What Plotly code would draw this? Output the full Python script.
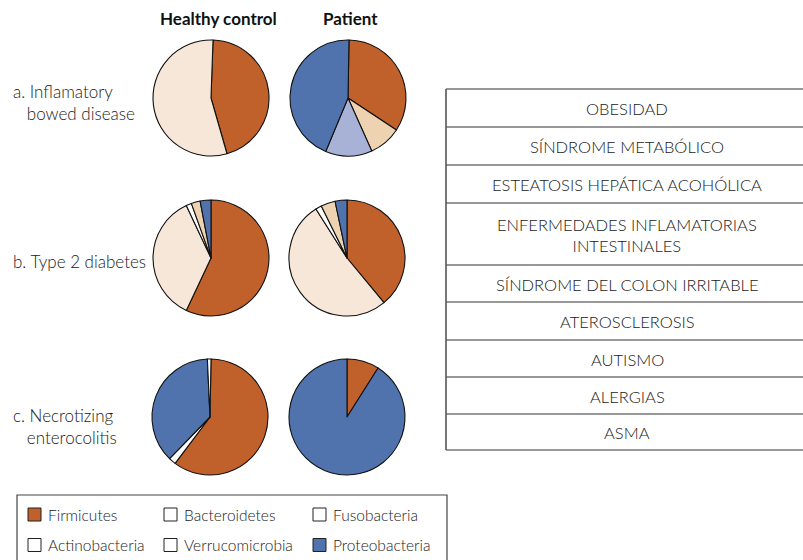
import plotly.graph_objects as go

# ---- data -------------------------------------------------------------
conditions = ["a. Inflamatory<br>   bowed disease", "b. Type 2 diabetes", "c. Necrotizing<br>   enterocolitis"]
groups = ["Healthy control", "Patient"]

ibd_healthy_labels = ["Firmicutes", "Bacteroidetes"]
ibd_healthy_values = [45, 55]
ibd_patient_labels = ["Firmicutes", "Actinobacteria", "Verrucomicrobia", "Proteobacteria"]
ibd_patient_values = [34, 9, 13, 44]

t2d_healthy_labels = ["Firmicutes", "Bacteroidetes", "Fusobacteria", "Actinobacteria", "Proteobacteria"]
t2d_healthy_values = [57, 36, 1.5, 2.5, 3]
t2d_patient_labels = ["Firmicutes", "Bacteroidetes", "Fusobacteria", "Actinobacteria", "Proteobacteria"]
t2d_patient_values = [39, 52, 1.7, 4, 3.3]

nec_healthy_labels = ["Firmicutes", "Fusobacteria", "Proteobacteria", "Verrucomicrobia"]
nec_healthy_values = [60, 2, 37, 1]
nec_patient_labels = ["Firmicutes", "Proteobacteria"]
nec_patient_values = [9, 91]

legend_items = ["Firmicutes", "Bacteroidetes", "Fusobacteria",
                "Actinobacteria", "Verrucomicrobia", "Proteobacteria"]

diseases = ["OBESIDAD", "SÍNDROME METABÓLICO", "ESTEATOSIS HEPÁTICA ACOHÓLICA",
            "ENFERMEDADES INFLAMATORIAS<br>INTESTINALES", "SÍNDROME DEL COLON IRRITABLE",
            "ATEROSCLEROSIS", "AUTISMO", "ALERGIAS", "ASMA"]

# ---- style ------------------------------------------------------------
W, H = 803, 560
ORANGE = "#C0602B"
BLUE = "#5073AE"
PEACH = "#F6E7D9"
TAN = "#EED3B3"
LAVENDER = "#A8B2D6"
WHITE = "#FFFFFF"
TEXT = "#1a1a1a"
FONT = "Lato"
LIGHT = 300

colour_ibd_h = [ORANGE, PEACH]
colour_ibd_p = [ORANGE, TAN, LAVENDER, BLUE]
colour_t2d = [ORANGE, PEACH, WHITE, TAN, BLUE]
colour_nec_h = [ORANGE, WHITE, BLUE, WHITE]
colour_nec_p = [ORANGE, BLUE]

legend_fill = [ORANGE, WHITE, WHITE, WHITE, WHITE, BLUE]


def px_x(x):
    return x / W


def px_y(y):
    return 1 - y / H


pies = [
    (ibd_healthy_labels, ibd_healthy_values, colour_ibd_h, 211, 98, 2),
    (ibd_patient_labels, ibd_patient_values, colour_ibd_p, 348, 98, 1),
    (t2d_healthy_labels, t2d_healthy_values, colour_t2d, 211, 258, 0),
    (t2d_patient_labels, t2d_patient_values, colour_t2d, 347, 258, 0),
    (nec_healthy_labels, nec_healthy_values, colour_nec_h, 210, 417, 1),
    (nec_patient_labels, nec_patient_values, colour_nec_p, 347, 417, 0),
]
R = 58

fig = go.Figure()
for labels, values, colours, cx, cy, rot in pies:
    fig.add_trace(go.Pie(
        labels=labels, values=values, sort=False, direction="clockwise",
        rotation=rot, textinfo="none", hoverinfo="label+value",
        marker=dict(colors=colours, line=dict(color="#111111", width=1.1)),
        domain=dict(x=[px_x(cx - R), px_x(cx + R)], y=[px_y(cy + R), px_y(cy - R)]),
        showlegend=False,
    ))

annotations = []
shapes = []

# column headers
for name, cx in zip(groups, [219, 350]):
    annotations.append(dict(x=px_x(cx), y=px_y(18), text=f"<b>{name}</b>", showarrow=False,
                            xanchor="center", yanchor="middle",
                            font=dict(family=FONT, size=17, color="#111111")))

# row labels
for text, cy in zip(conditions, [102, 261, 426]):
    annotations.append(dict(x=px_x(11), y=px_y(cy), text=text, showarrow=False,
                            xanchor="left", yanchor="middle", align="left",
                            font=dict(family=FONT, size=17, color=TEXT, weight=LIGHT)))

# disease table on the right
row_edges = [89, 127, 165, 203, 265, 302, 340, 377, 414, 450]
x_left, x_right = 446, 803
for y in row_edges:
    shapes.append(dict(type="line", xref="paper", yref="paper",
                       x0=px_x(x_left), x1=px_x(x_right), y0=px_y(y), y1=px_y(y),
                       line=dict(color="#333333", width=1.2)))
shapes.append(dict(type="line", xref="paper", yref="paper",
                   x0=px_x(x_left), x1=px_x(x_left), y0=px_y(row_edges[0]), y1=px_y(row_edges[-1]),
                   line=dict(color="#555555", width=1.6)))
for i, text in enumerate(diseases):
    yc = (row_edges[i] + row_edges[i + 1]) / 2 + 1
    annotations.append(dict(x=px_x(627), y=px_y(yc), text=text, showarrow=False,
                            xanchor="center", yanchor="middle", align="center",
                            font=dict(family=FONT, size=16.5, color=TEXT, weight=LIGHT)))

# legend box
shapes.append(dict(type="rect", xref="paper", yref="paper",
                   x0=px_x(17), x1=px_x(447), y0=px_y(562), y1=px_y(495),
                   line=dict(color="#444444", width=1.2), fillcolor="rgba(0,0,0,0)"))
legend_cols = [28, 164, 313]
legend_rows = [514.5, 545]
for i, (name, fill) in enumerate(zip(legend_items, legend_fill)):
    x0 = legend_cols[i % 3]
    yc = legend_rows[i // 3]
    shapes.append(dict(type="rect", xref="paper", yref="paper",
                       x0=px_x(x0), x1=px_x(x0 + 13), y0=px_y(yc + 6.5), y1=px_y(yc - 6.5),
                       line=dict(color="#222222", width=1), fillcolor=fill))
    annotations.append(dict(x=px_x(x0 + 18), y=px_y(yc), text=name, showarrow=False,
                            xanchor="left", yanchor="middle",
                            font=dict(family=FONT, size=15.5, color=TEXT, weight=LIGHT)))

fig.update_layout(
    width=W, height=H, margin=dict(l=0, r=0, t=0, b=0),
    paper_bgcolor="white", plot_bgcolor="white",
    annotations=annotations, shapes=shapes,
)

fig.write_html("out.html")
